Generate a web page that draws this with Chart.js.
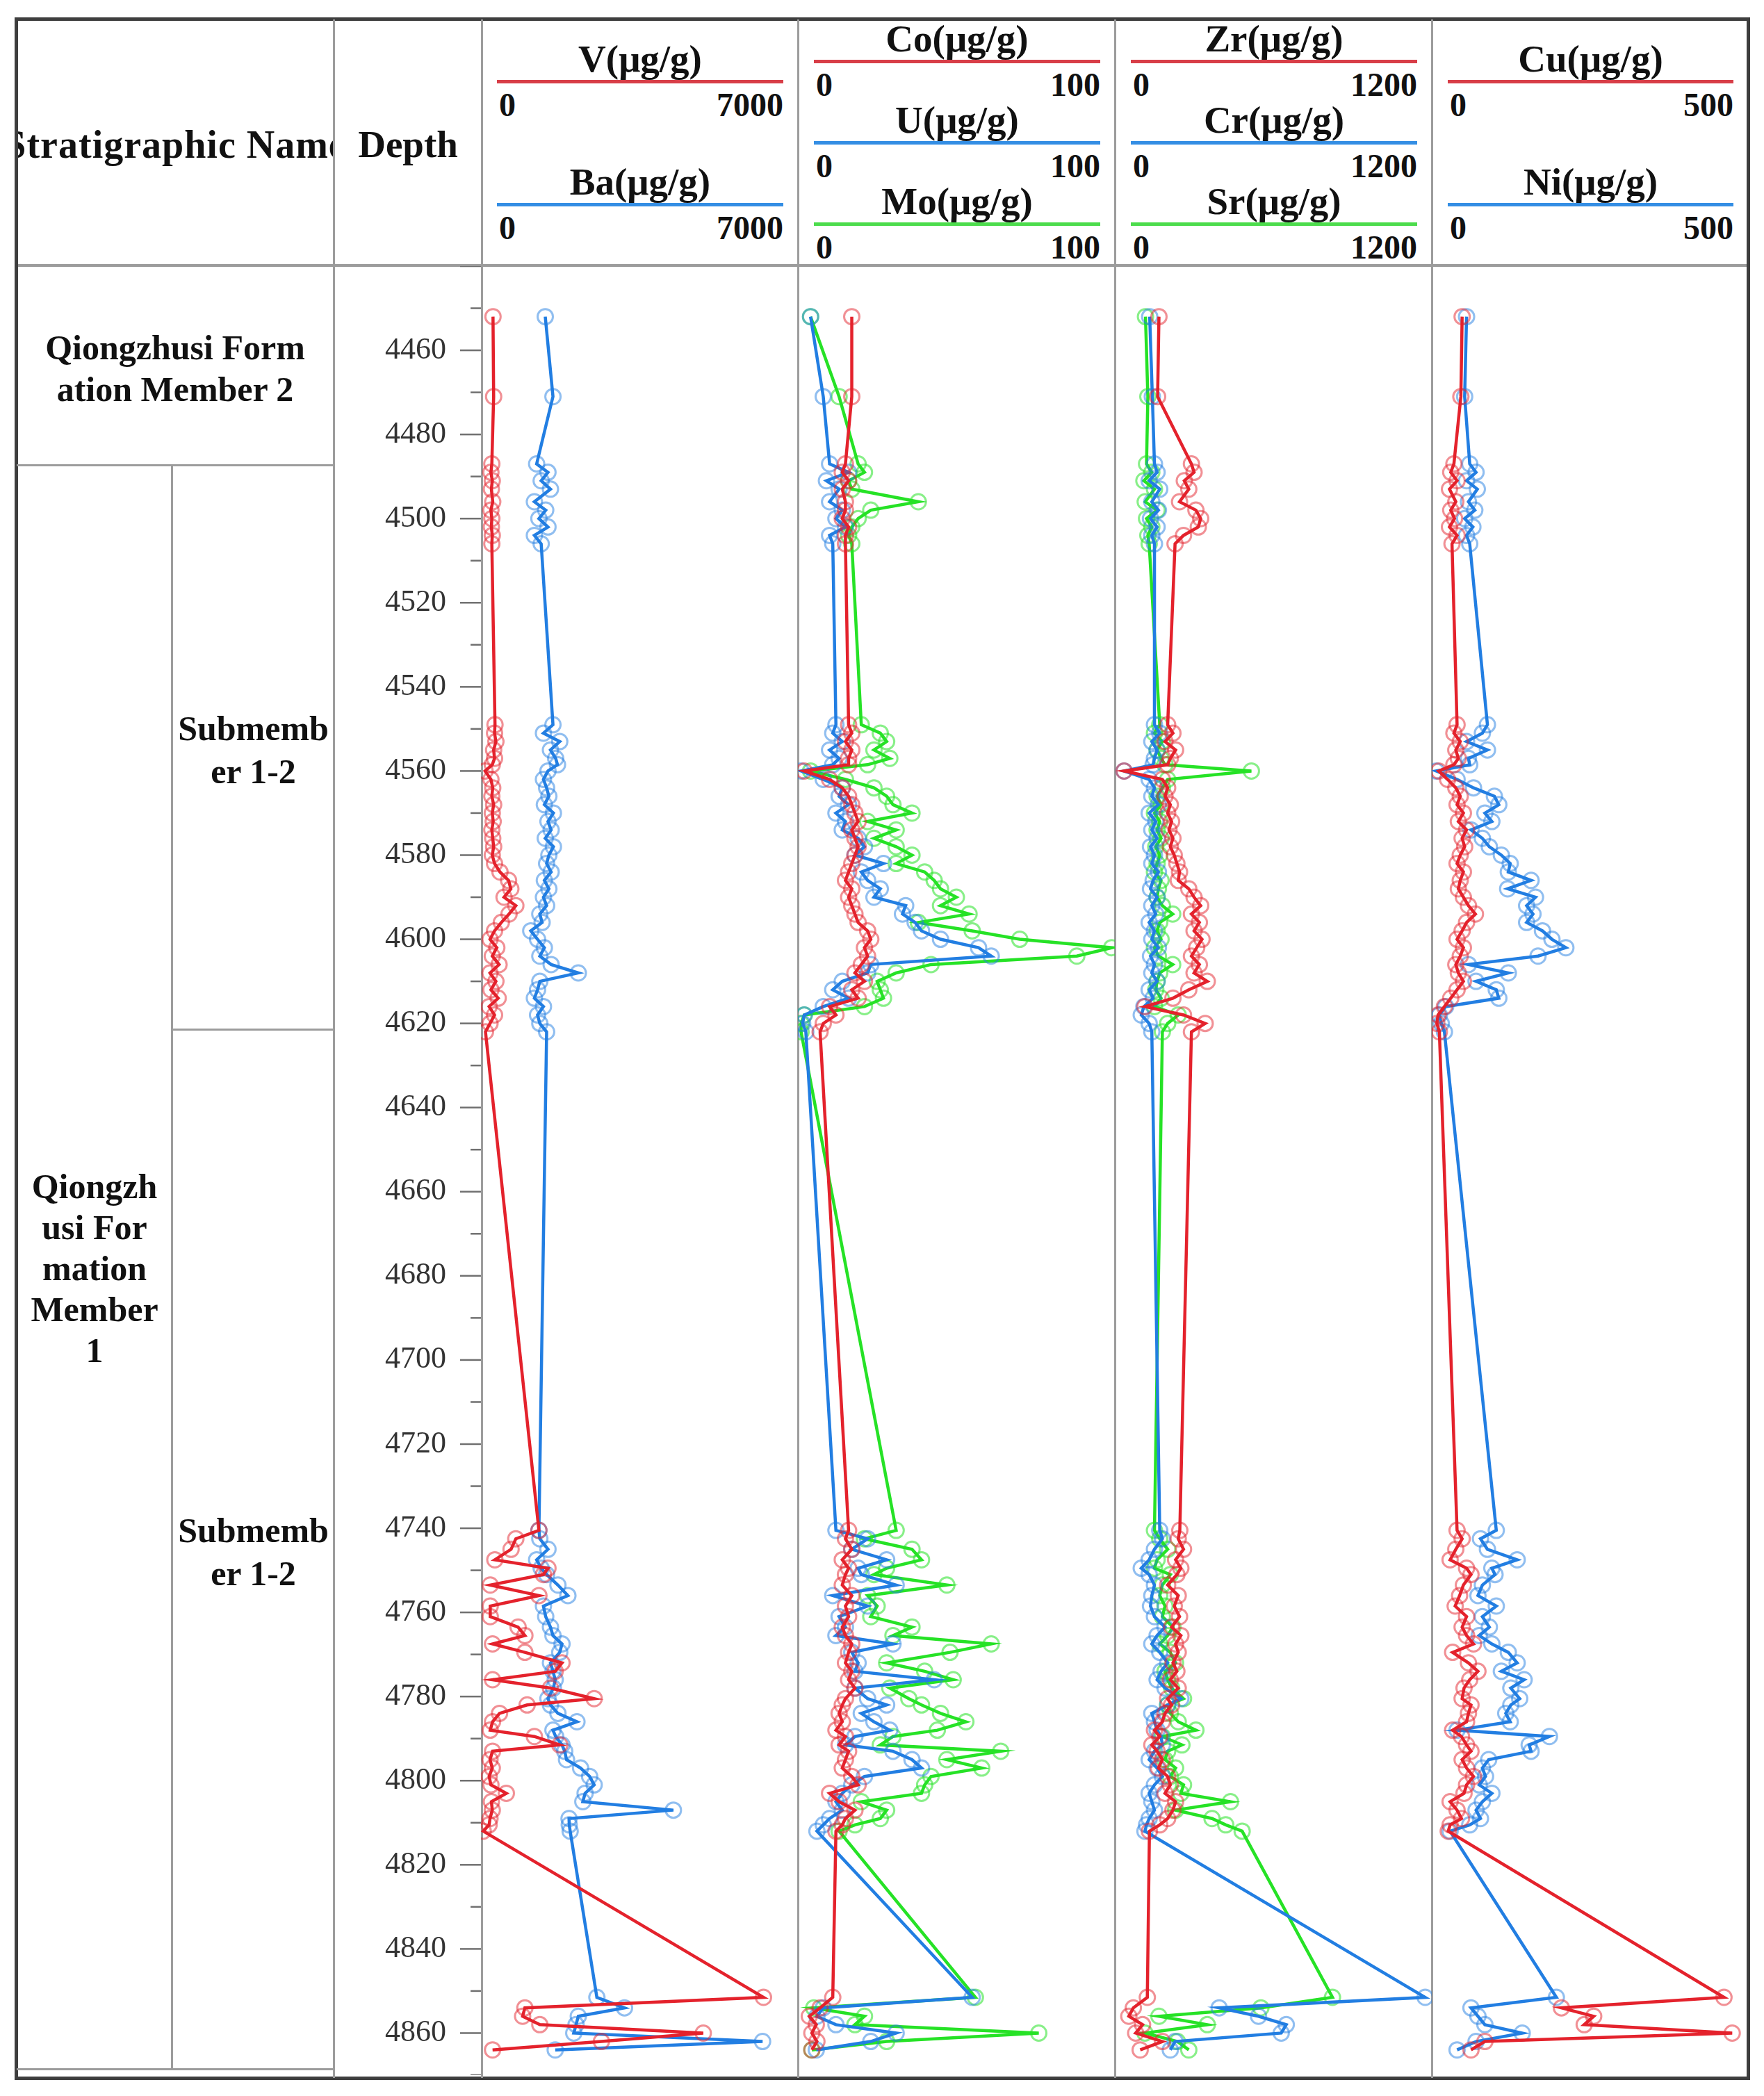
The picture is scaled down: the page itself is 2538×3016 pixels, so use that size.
<!DOCTYPE html>
<html lang="en">
<head>
<meta charset="UTF-8">
<title>Trace element profiles, Qiongzhusi Formation</title>
<script src="https://cdn.jsdelivr.net/npm/chart.js"></script>
<style>
    body { margin: 0; background: #fff; font-family: "Liberation Serif", "Times New Roman", serif; }
    #page { position: relative; width: 2538px; height: 3016px; overflow: hidden; background: #fff; }
    .ln { position: absolute; background: #9c9c9c; }
    .dark { background: #3e3e3e; }
    .txt { position: absolute; font-weight: bold; color: #111; white-space: nowrap; text-align: center; }
    .cell { font-size: 50px; line-height: 60px; }
    canvas { position: absolute; }
</style>
</head>
<body>
<div id="page">
    <!-- table frame -->
    <div class="ln dark" style="left:21px; top:25px; width:2497px; height:5px;"></div>
    <div class="ln" style="left:22px; top:380px; width:2495px; height:4px;"></div>
    <div class="ln dark" style="left:21px; top:25px; width:5px; height:2968px;"></div>
    <div class="ln dark" style="left:2513px; top:25px; width:5px; height:2968px;"></div>
    <div class="ln dark" style="left:21px; top:2988px; width:2497px; height:5px;"></div>
    <div class="ln" style="left:24px; top:2976px; width:458px; height:3px;"></div>
    <div class="ln" style="left:479px; top:28px; width:3px; height:2962px;"></div>
    <div class="ln" style="left:692px; top:28px; width:3px; height:2962px;"></div>
    <div class="ln" style="left:1147px; top:28px; width:3px; height:2962px;"></div>
    <div class="ln" style="left:1603px; top:28px; width:3px; height:2962px;"></div>
    <div class="ln" style="left:2059px; top:28px; width:3px; height:2962px;"></div>
    <!-- stratigraphic column -->
    <div class="ln" style="left:24px; top:668px; width:456px; height:3px;"></div>
    <div class="ln" style="left:246px; top:669px; width:3px; height:2308px;"></div>
    <div class="ln" style="left:247px; top:1480px; width:233px; height:3px;"></div>

    <div class="txt" style="left:26px; top:176px; width:453px; height:64px; line-height:64px; font-size:56px; letter-spacing:1px; display:flex; justify-content:center; overflow:hidden;">Stratigraphic Name</div>
    <div class="txt" style="left:482px; top:176px; width:210px; height:64px; line-height:64px; font-size:55px;">Depth</div>

    <div class="txt cell" style="left:24px; top:470px; width:456px;">Qiongzhusi Form<br>ation Member 2</div>
    <div class="txt cell" style="left:249px; top:1017px; width:231px; line-height:62px;">Submemb<br>er 1-2</div>
    <div class="txt cell" style="left:249px; top:2171px; width:231px; line-height:62px;">Submemb<br>er 1-2</div>
    <div class="txt cell" style="left:26px; top:1678px; width:220px; line-height:59px;">Qiongzh<br>usi For<br>mation<br>Member<br>1</div>
</div>

<script>
// sample depths (m), shared by every element
const depth = [
    4452, 4471,
    4487, 4489, 4491, 4493, 4496, 4498, 4500, 4502, 4504, 4506,
    4549, 4551, 4553, 4555, 4557, 4558.5, 4560, 4562, 4564, 4566, 4568, 4570, 4572, 4574, 4576, 4578,
    4580, 4582, 4584, 4586, 4588, 4590, 4592, 4594, 4596, 4598, 4600, 4602, 4604, 4606, 4608, 4610,
    4612, 4614, 4616, 4618, 4620, 4622,
    4740.5, 4742.5, 4745, 4747.5, 4749.5, 4751, 4753.5, 4756, 4758.5, 4761, 4763.5, 4765.5, 4767.5,
    4769.5, 4772, 4774, 4776, 4778, 4780.5, 4782, 4784, 4786, 4788, 4789.5, 4791.5, 4793, 4795, 4797,
    4799, 4801, 4803, 4805, 4807, 4809, 4810.5, 4812,
    4851.5, 4854, 4856, 4858, 4860, 4862, 4864
];

// element contents (ug/g)
const V = [
    266, 280,
    240, 220, 250, 230, 260, 220, 240, 230, 250, 240,
    310, 300, 330, 280, 300, 250, 90, 220, 260, 240, 280, 250, 270, 240, 260, 280, 250, 300, 420, 610,
    660, 510, 770, 620, 450, 300, 200, 350, 250, 400, 200, 330, 220, 380, 180, 300, 200, 100,
    1280, 770, 665, 307, 1480, 1380, 205, 1280, 205, 205, 820, 970, 256, 970, 1790, 1640, 256, 1535,
    2500, 1020, 410, 256, 205, 1180, 1740, 256, 200, 250, 180, 220, 560, 230, 250, 200, 180, 50,
    6240, 970, 920, 1300, 4910, 2660, 256
];
const Ba = [
    1420, 1590,
    1230, 1480, 1330, 1535, 1180, 1430, 1280, 1480, 1180, 1330,
    1590, 1380, 1740, 1535, 1650, 1690, 1480, 1380, 1450, 1500, 1400, 1600, 1480, 1550, 1420, 1600,
    1500, 1450, 1550, 1400, 1500, 1380, 1450, 1300, 1350, 1100, 1250, 1400, 1300, 1550, 2150, 1300,
    1250, 1180, 1380, 1250, 1300, 1450,
    1280, 1300, 1480, 1230, 1330, 1450, 1700, 1920, 1380, 1430, 1535, 1590, 1790, 1740, 1535, 1590,
    1640, 1600, 1480, 1535, 1700, 2120, 1590, 1650, 1790, 1850, 1890, 2200, 2400, 2500, 2300, 2250,
    4250, 1945, 1950, 1970,
    2560, 3170, 2150, 2100, 2050, 6220, 1640
];
const Co = [
    17, 17,
    15, 14, 16, 14, 15, 15, 14, 16, 15, 15,
    16, 17, 15, 17, 16, 16, 2, 10, 14, 16, 17, 18, 19, 17, 18, 19, 18, 17, 16, 15, 17, 16, 17, 18,
    19, 22, 23, 21, 22, 20, 18, 21, 17, 19, 10, 12, 8, 7,
    16, 15, 17, 14, 16, 15, 14, 17, 15, 16, 14, 15, 17, 16, 15, 17, 16, 18, 15, 14, 13, 14, 12, 15,
    13, 16, 15, 14, 17, 19, 10, 13, 18, 15, 14, 12,
    11, 7, 3.6, 5.8, 4.4, 6, 4.4
];
const U = [
    4, 8,
    10, 16, 9, 13, 10, 14, 12, 15, 10, 11,
    12, 11, 14, 10, 13, 11, 1, 8, 14, 13, 16, 12, 15, 14, 19, 21, 18, 27, 20, 22, 26, 24, 34, 33,
    37, 39, 45, 57, 61, 23, 22, 14, 11, 16, 8, 2, 1.5, 2.5,
    12, 22, 17, 28, 19, 20, 31, 11, 22, 13, 15, 12, 30, 17, 19, 18, 43, 18, 22, 28, 20, 24, 29, 18,
    15, 30, 36, 39, 21, 17, 14, 12, 14, 10, 8, 6,
    55, 8, 6, 12, 31, 23, 5.8
];
const Mo = [
    4, 13,
    19, 21, 16, 17, 38, 23, 19, 17, 16, 17,
    20, 26, 28, 24, 29, 22, 4, 15, 24, 28, 30, 36, 22, 31, 24, 31, 36, 31, 40, 43, 45, 50, 45, 54,
    38, 55, 70, 99, 88, 42, 31, 25, 26, 27, 21, 2, 1, 1,
    31, 21, 36, 39, 28, 24, 47, 22, 25, 23, 36, 30, 61, 48, 28, 40, 49, 29, 35, 39, 45, 53, 44, 30,
    26, 64, 47, 58, 42, 40, 39, 20, 28, 26, 18, 13,
    56, 5, 21, 18, 76, 28, 4.4
];
const Zr = [
    167, 162,
    290, 300, 263, 280, 245, 307, 325, 316, 260, 228,
    200, 220, 190, 230, 210, 200, 35, 180, 200, 190, 210, 200, 215, 205, 220, 210, 225, 235, 245, 240,
    280, 300, 325, 290, 320, 300, 330, 310, 290, 320, 300, 350, 280, 220, 114, 260, 342, 290,
    246, 240, 260, 230, 250, 235, 200, 240, 225, 245, 215, 250, 230, 240, 220, 235, 210, 240, 200, 215,
    190, 180, 150, 170, 140, 160, 180, 165, 200, 210, 190, 230, 220, 200, 170, 131,
    123, 70, 53, 105, 79, 180, 96
];
const Cr = [
    132, 142,
    150, 160, 130, 170, 140, 165, 135, 160, 140, 150,
    150, 170, 140, 160, 150, 145, 35, 130, 150, 140, 165, 130, 155, 140, 160, 135, 150, 140, 165, 145,
    135, 160, 140, 155, 130, 150, 140, 165, 135, 150, 140, 160, 130, 145, 110, 100, 130, 140,
    170, 180, 150, 130, 100, 130, 150, 140, 135, 150, 190, 160, 140, 170, 200, 175, 160, 190, 250, 200,
    140, 150, 160, 175, 180, 150, 130, 160, 180, 150, 130, 140, 150, 130, 120, 114,
    1175, 395, 544, 649, 630, 228, 210
];
const Sr = [
    116, 125,
    120, 140, 110, 150, 115, 160, 120, 140, 125, 130,
    170, 150, 180, 160, 175, 190, 517, 200, 180, 160, 175, 150, 170, 160, 175, 155, 170, 160, 150, 175,
    165, 160, 180, 219, 170, 160, 175, 150, 165, 219, 170, 160, 155, 175, 150, 240, 200, 180,
    150, 170, 200, 160, 150, 210, 180, 170, 190, 180, 220, 200, 170, 210, 230, 190, 200, 215, 260, 200,
    210, 240, 307, 180, 254, 200, 190, 230, 210, 260, 250, 438, 230, 368, 420, 482,
    824, 553, 167, 350, 114, 237, 280
];
const Cu = [
    48, 46,
    35, 30, 40, 28, 38, 30, 36, 28, 40, 32,
    40, 35, 45, 38, 42, 35, 11, 25, 38, 45, 40, 50, 42, 55, 48, 52, 45, 40, 50, 45,
    42, 50, 58, 69, 55, 48, 40, 50, 45, 38, 42, 50, 40, 30, 20, 10, 8, 12,
    40, 48, 38, 29, 55, 62, 50, 44, 37, 55, 48, 55, 66, 33, 58, 73, 60, 51, 48, 62,
    58, 55, 33, 47, 55, 62, 48, 55, 66, 55, 51, 29, 40, 47, 29, 26,
    462, 205, 256, 241, 475, 84, 62
];
const Ni = [
    55, 52,
    60, 70, 55, 72, 58, 68, 52, 65, 55, 60,
    88, 80, 55, 88, 58, 60, 7, 40, 66, 99, 106, 84, 95, 62, 80, 91, 110, 124, 121, 157,
    120, 164, 150, 160, 150, 175, 190, 212, 168, 58, 121, 70, 102, 106, 22, 12, 15, 20,
    102, 77, 88, 135, 95, 100, 80, 73, 102, 80, 91, 75, 95, 121, 135, 110, 146, 125, 139, 125,
    117, 124, 40, 186, 154, 157, 90, 80, 85, 75, 95, 80, 70, 77, 60, 29,
    197, 62, 73, 84, 143, 70, 40
];

// panel contents and axis ranges
const panelElements = [['V', 'Ba'], ['Co', 'U', 'Mo'], ['Zr', 'Cr', 'Sr'], ['Cu', 'Ni']];
const panelSeries = [[V, Ba], [Co, U, Mo], [Zr, Cr, Sr], [Cu, Ni]];
const panelMax = [7000, 100, 1200, 500];
const unit = '(μg/g)';
const depthMin = 4440, depthMax = 4870;

// layout
const panelLeft = [692, 1148, 1604, 2060];
const panelRight = [1148, 1604, 2060, 2515];
const bodyTop = 383, bodyHeight = 2603;
const axisWidth = 212;
const headColors = ['rgb(216,62,72)', 'rgb(52,142,228)', 'rgb(76,220,76)'];
const lineColors = ['rgb(228,34,44)', 'rgb(34,126,226)', 'rgb(38,226,38)'];
const markColors = ['rgba(228,34,44,0.5)', 'rgba(34,126,226,0.5)', 'rgba(38,226,38,0.55)'];

const page = document.getElementById('page');

function addDiv(css, text, cls) {
    const d = document.createElement('div');
    if (cls) d.className = cls;
    d.style.cssText = css;
    if (text !== undefined) d.textContent = text;
    page.appendChild(d);
    return d;
}

// header: element names, colour keys, scale ends
panelElements.forEach((names, p) => {
    const rows = names.length === 2 ? [115, 292] : [86, 203, 320];
    const x0 = panelLeft[p] + 23, x1 = panelRight[p] - 21;
    names.forEach((name, r) => {
        const y = rows[r];
        addDiv(`left:${x0}px; top:${y - 62}px; width:${x1 - x0}px; height:64px; line-height:64px; font-size:55px;`,
            name + unit, 'txt');
        addDiv(`position:absolute; left:${x0}px; top:${y}px; width:${x1 - x0}px; height:5px; background:${headColors[r]};`);
        addDiv(`left:${x0 + 3}px; top:${y + 8}px; height:56px; line-height:56px; font-size:48px; text-align:left;`,
            '0', 'txt');
        addDiv(`left:${x1 - 200}px; top:${y + 8}px; width:200px; height:56px; line-height:56px; font-size:48px; text-align:right;`,
            String(panelMax[p]), 'txt');
    });
});

// depth axis tick marks: long at every 20 m, short in between
const depthTicks = {
    id: 'depthTicks',
    afterDraw(chart) {
        const s = chart.scales.y;
        const ctx = chart.ctx;
        ctx.save();
        ctx.strokeStyle = '#707070';
        ctx.lineWidth = 2.5;
        s.ticks.forEach(t => {
            const y = s.getPixelForValue(t.value);
            const len = Math.round(t.value) % 20 === 0 ? 30 : 15;
            ctx.beginPath();
            ctx.moveTo(s.right - len, y);
            ctx.lineTo(s.right, y);
            ctx.stroke();
        });
        ctx.restore();
    }
};

panelSeries.forEach((list, p) => {
    const withAxis = p === 0;
    const left = withAxis ? panelLeft[0] - axisWidth : panelLeft[p];
    const cv = document.createElement('canvas');
    cv.width = panelRight[p] - left;
    cv.height = bodyHeight;
    cv.style.left = left + 'px';
    cv.style.top = bodyTop + 'px';
    page.appendChild(cv);

    const datasets = list.map((vals, k) => ({
        label: panelElements[p][k],
        data: depth.map((d, i) => ({ x: vals[i], y: d })),
        showLine: true,
        borderColor: lineColors[k],
        borderWidth: 4.5,
        pointRadius: 11,
        pointHoverRadius: 11,
        pointBorderWidth: 3,
        pointBorderColor: markColors[k],
        pointBackgroundColor: 'rgba(255,255,255,0)'
    }));

    const yScale = {
        type: 'linear', min: depthMin, max: depthMax, reverse: true,
        display: withAxis
    };
    if (withAxis) {
        Object.assign(yScale, {
            afterFit: s => { s.width = axisWidth; s.paddingTop = 0; s.paddingBottom = 0; },
            grid: { display: false, drawTicks: false },
            border: { display: false },
            ticks: {
                stepSize: 10,
                autoSkip: false,
                padding: 50,
                color: '#333',
                font: { family: 'Liberation Serif', size: 44 },
                callback: v => (Math.round(v) % 20 === 0 && v !== depthMin) ? v : ''
            }
        });
    }

    new Chart(cv.getContext('2d'), {
        type: 'scatter',
        data: { datasets },
        options: {
            responsive: false,
            animation: false,
            layout: { padding: 0, autoPadding: false },
            plugins: { legend: { display: false }, tooltip: { enabled: false } },
            scales: {
                x: { type: 'linear', min: 0, max: panelMax[p], display: false },
                y: yScale
            }
        },
        plugins: withAxis ? [depthTicks] : []
    });
});
</script>
</body>
</html>
